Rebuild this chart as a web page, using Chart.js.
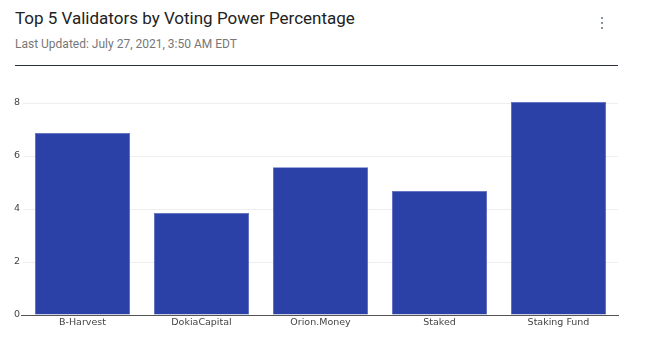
<!DOCTYPE html>
<html><head><meta charset="utf-8">
<script src="https://cdn.jsdelivr.net/npm/chart.js@4/dist/chart.umd.min.js"></script>
<style>
html,body{margin:0;padding:0;background:#fff;width:668px;height:356px;overflow:hidden;}
#title{position:absolute;left:15px;top:8px;font-family:Roboto,sans-serif;font-size:17px;color:#222;}
#sub{position:absolute;left:15px;top:37px;font-family:Roboto,sans-serif;font-size:12px;color:#777;}
#rule{position:absolute;left:15px;top:65px;width:603px;height:0;border-top:1.5px solid #2a2f3a;}
#dots{position:absolute;left:600px;top:17px;width:4px;}
#dots div{width:2px;height:2px;background:#8a93a3;margin:0 0 3px 1px;}
#wrap{position:absolute;left:0;top:70px;width:668px;height:286px;}
</style></head><body>
<div id="title">Top 5 Validators by Voting Power Percentage</div>
<div id="sub">Last Updated: July 27, 2021, 3:50 AM EDT</div>
<div id="dots"><div></div><div></div><div></div></div>
<div id="rule"></div>
<div id="wrap"><canvas id="c"></canvas></div>
<script>
const categories = ["B-Harvest", "DokiaCapital", "Orion.Money", "Staked", "Staking Fund"];
const votingPower = [6.87, 3.85, 5.58, 4.68, 8.04];
const yTicks = [0, 2, 4, 6, 8];

new Chart(document.getElementById('c'), {
  type: 'bar',
  data: { labels: categories, datasets: [{ data: votingPower, backgroundColor: '#2b41a8', borderColor: '#4a5fc0', borderWidth: 0.5, barPercentage: 0.8, categoryPercentage: 1, clip: false }] },
  options: {
    responsive: true, maintainAspectRatio: false, animation: false,
    layout: { padding: { top: 33, left: 0, right: 50, bottom: 0 } },
    plugins: { legend: { display: false }, tooltip: { enabled: false } },
    scales: {
      x: {
        grid: { display: false, drawTicks: false },
        border: { display: true, color: '#555', width: 1 },
        ticks: { color: '#444', font: { family: 'DejaVu Sans', size: 9.5 }, padding: 2, maxRotation: 0 },
        afterFit: s => { s.height = 41; }
      },
      y: {
        min: 0, max: 8,
        afterBuildTicks: s => { s.ticks = yTicks.map(v => ({ value: v })); },
        border: { display: false },
        grid: {
          color: c => c.tick && c.tick.value === 0 ? '#555' : '#eeeeee',
          tickColor: c => c.tick && c.tick.value === 0 ? '#555' : 'rgba(0,0,0,0)',
          tickLength: 2
        },
        ticks: { color: '#444', font: { family: 'DejaVu Sans', size: 9.5 }, padding: 1 },
        afterFit: s => { s.width = 23; }
      }
    }
  }
});
</script>
</body></html>
